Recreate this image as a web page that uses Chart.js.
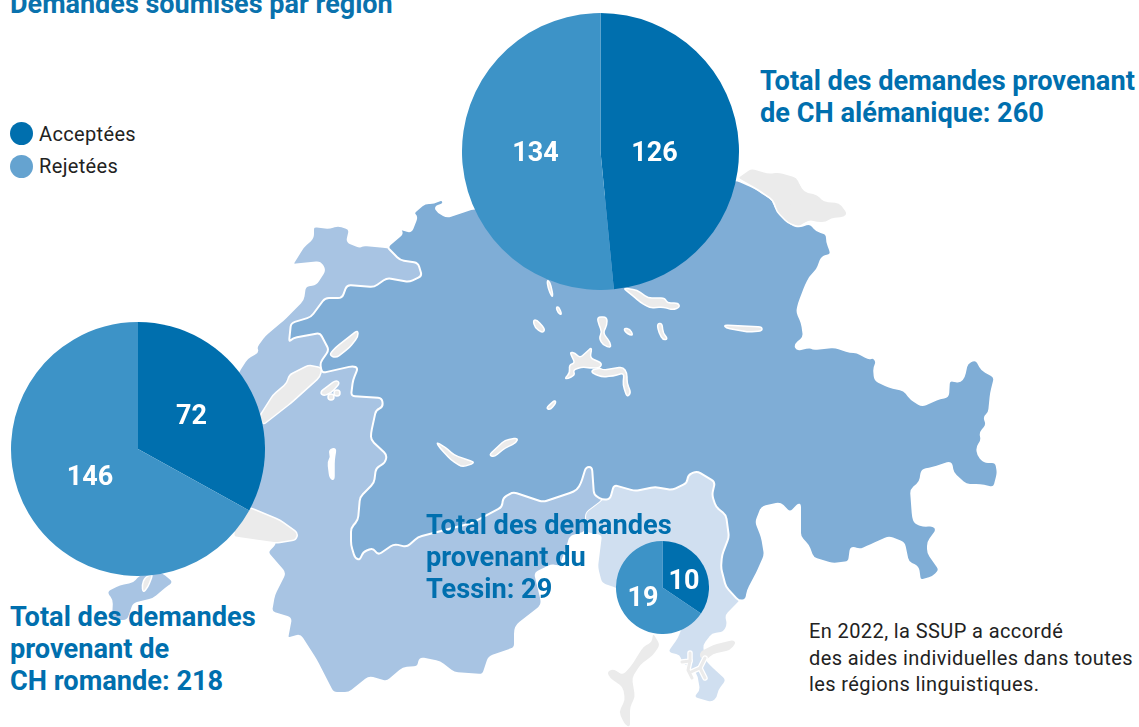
<!DOCTYPE html>
<html lang="fr">
<head>
<meta charset="utf-8">
<title>Demandes soumises par région</title>
<script src="https://cdn.jsdelivr.net/npm/chart.js@4"></script>
<style>
  body { margin: 0; background: #fff; font-family: Roboto, sans-serif; }
  #page { position: relative; width: 1139px; height: 727px; overflow: hidden; }
  #map { position: absolute; left: 0; top: 0; }
  canvas { position: absolute; }
  .title { position: absolute; left: 10px; top: -12px; font-size: 27px; font-weight: 700; color: #0a72ad; white-space: nowrap; }
  .total { position: absolute; font-size: 27.2px; line-height: 32px; font-weight: 700; color: #006fae; white-space: nowrap; }
  .note { position: absolute; left: 809px; top: 618px; font-size: 20px; line-height: 26.5px; letter-spacing: 0.4px; color: #222; white-space: nowrap; }
  .leg { position: absolute; left: 39px; font-size: 20px; letter-spacing: 0.35px; color: #222; white-space: nowrap; }
  .dot { position: absolute; left: 10px; width: 23px; height: 23px; border-radius: 50%; }
</style>
</head>
<body>
<div id="page">
  <svg id="map" width="1139" height="727" viewBox="0 0 1139 727">
    <g stroke="#fff" stroke-width="2" stroke-linejoin="round">
      <!-- Suisse romande -->
      <polygon fill="#a8c4e3" points="387,247 363,245 360,247 347,242 350,229 338,225 329,228 313,226 313,238 303,247 292,265 320,262 325,270 316,284 305,286 303,300 283,320 265,335 256,347 258,352 247,358 238,372 230,400 240,510 276,543 267,552 285,573 274,595 271,612 291,618 287,639 300,635 316,660 333,693 349,693 369,677 387,682 403,668 418,667 420,658 440,662 454,673 483,675 489,657 515,648 515,630 517,625 540,607 542,602 535,573 552,565 560,567 568,545 570,537 586,532 586,513 603,500 620,440 445,300 435,262 400,250"/>
      <polygon fill="#a8c4e3" points="107,592 120,585 133,583 140,575 162,573 173,582 165,588 153,598 133,603 127,620 112,620 113,600" stroke="none"/>
      <!-- Tessin -->
      <polygon fill="#d0dff0" points="603,500 610,485 700,465 745,500 742,596 739,601 725,615 727,625 723,632 712,633 703,645 705,660 713,668 726,680 718,690 717,697 712,702 694,697 700,690 697,673 690,668 682,662 680,655 668,652 678,638 683,625 640,600 617,588 602,583 598,567 602,535 586,532 586,513" stroke="none"/>
      <!-- Suisse alémanique -->
      <polygon fill="#7fadd6" points="387,247 403,233 398,228 411,232 417,217 413,213 425,203 434,203 442,199 444,204 435,207 438,212 447,217 471,209 737,180 755,188 773,200 775,207 786,217 790,224 799,227 810,223 817,231 827,234 827,242 831,252 830,255 822,257 817,270 810,277 806,285 799,303 797,312 802,323 804,337 795,345 797,350 810,347 813,349 835,347 850,352 857,352 869,359 873,357 877,362 874,368 875,380 889,387 904,390 911,399 922,406 940,398 948,397 949,380 960,382 964,377 967,363 976,359 982,370 995,377 991,393 989,413 984,417 987,425 980,433 982,440 977,447 978,455 984,462 996,462 998,473 994,488 980,485 966,485 953,473 951,462 933,468 922,470 920,482 911,490 913,517 915,523 924,526 933,525 937,530 928,542 928,553 940,570 933,577 920,581 918,567 908,562 904,543 889,537 871,545 860,550 851,547 849,562 833,564 813,558 808,545 800,537 800,503 790,513 780,503 762,507 756,522 762,537 765,555 757,573 748,590 746,600 739,601 726,587 721,568 722,555 729,537 726,515 716,507 712,495 715,482 697,471 688,475 687,483 672,490 655,487 635,491 614,485 610,499 603,500 594,495 592,467 586,467 581,483 577,490 570,493 543,502 513,492 503,498 502,507 472,523 418,537 407,547 394,544 378,555 373,548 363,552 360,560 355,558 351,545 351,528 358,520 360,497 374,483 376,468 385,463 387,455 371,440 371,433 376,410 383,407 382,398 351,396 353,380 358,368 353,366 322,373 320,363 329,350 320,333 293,338 289,342 291,323 311,317 325,298 342,298 347,285 374,287 387,278 409,282 422,276 418,263 400,260"/>
    </g>
    <g fill="#ebebeb" stroke="#fff" stroke-width="1.5" stroke-linejoin="round">
      <!-- lacs -->
      <polygon points="737,178 751,168 768,173 779,172 797,177 804,192 817,195 824,202 839,203 847,213 844,217 831,218 826,222 817,222 810,220 799,227 788,223 777,212 773,200 755,188"/>
      <polygon points="798,182 804,192 817,195 824,202 839,203 847,213 844,217 831,218 826,222 817,222 810,220 799,225 790,205" stroke="none"/>
      <polygon points="240,505 251,508 280,520 298,533 296,540 276,543 233,537"/>
      <polygon points="145,577 153,574 148,587 143,593 142,585"/>
      <polygon points="358,330 358,337 349,348 336,358 329,355 336,347"/>
      <polygon points="309,365 322,368 320,377 291,403 263,425 259,417 273,395 287,383 289,375"/>
      <polygon points="320,392 336,380 340,383 331,393 323,396"/>
      <circle cx="331" cy="397" r="3"/>
      <circle cx="337" cy="393" r="3"/>
      <polygon points="436,442 445,447 454,455 462,458 474,462 472,464 462,467 451,460 440,448"/>
      <polygon points="489,455 505,440 518,438 516,443 505,448 494,457"/>
      <polygon points="623,288 637,290 648,298 665,298 667,303 678,303 680,307 673,310 663,307 650,308 640,302 632,295"/>
      <polygon points="547,280 550,282 553,295 552,297 548,288"/>
      <polygon points="556,307 559,307 562,315 558,313"/>
      <polygon points="533,320 537,320 545,329 543,333 535,328"/>
      <polygon points="597,317 607,317 607,325 603,333 610,342 611,348 603,345 599,338 602,332 599,325"/>
      <polygon points="624,328 630,329 633,335 630,335 625,332"/>
      <polygon points="657,324 662,323 663,333 668,339 663,340 659,333"/>
      <polygon points="724,325 762,327 762,331 748,332 726,328"/>
      <polygon points="570,352 575,353 580,358 592,347 590,358 602,363 600,368 590,368 582,367 573,370 575,375 567,379 565,378 570,373 569,365 575,363 572,357"/>
      <polygon points="592,370 600,368 603,370 623,367 627,373 627,383 631,393 627,397 623,385 624,373 613,376 602,377 592,373"/>
      <polygon points="546,408 555,400 556,403 550,410"/>
      <polygon points="329,450 336,448 334,460 334,480 330,478 328,462 331,457" fill="#fff"/>
      <polygon points="700,652 713,645 733,640 736,643 730,650 713,654 706,660 700,658" stroke="none"/>
      <polygon points="653,633 660,645 653,655 640,665 632,678 635,697 630,707 630,727 625,725 619,712 625,700 623,687 610,678 607,672 613,669 623,675 632,665 643,647 652,642" stroke="none"/>
    </g>
    <g fill="none" stroke="#fff" stroke-width="5.5" stroke-linecap="round" stroke-linejoin="round">
      <polyline points="682,662 690,661 690,653"/>
      <polyline points="690,661 688,670 692,678"/>
      <polyline points="691,672 700,668 705,658"/>
      <polyline points="700,668 705,678"/>
    </g>
    <g fill="none" stroke="#ebebeb" stroke-width="3" stroke-linecap="round" stroke-linejoin="round">
      <polyline points="682,662 690,661 690,653"/>
      <polyline points="690,661 688,670 692,678"/>
      <polyline points="691,672 700,668 705,658"/>
      <polyline points="700,668 705,678"/>
    </g>
  </svg>

  <canvas id="pieAlemanique" style="left:461.5px;top:12.5px"></canvas>
  <canvas id="pieRomande" style="left:11px;top:322px"></canvas>
  <canvas id="pieTessin" style="left:616px;top:541px"></canvas>

  <div class="title">Demandes soumises par région</div>
  <div class="dot" style="top:122px;background:#006fae"></div>
  <div class="leg" style="top:122px">Acceptées</div>
  <div class="dot" style="top:155px;background:#65a3d0"></div>
  <div class="leg" style="top:154px">Rejetées</div>

  <div class="total" style="left:760px;top:65px">Total des demandes provenant<br>de CH alémanique: 260</div>
  <div class="total" style="left:10px;top:601px">Total des demandes<br>provenant de<br>CH romande: 218</div>
  <div class="total" style="left:426px;top:509px">Total des demandes<br>provenant du<br>Tessin: 29</div>
  <div class="note">En 2022, la SSUP a accordé<br>des aides individuelles dans toutes<br>les régions linguistiques.</div>
</div>

<script>
// valeurs
var regions = ['CH alémanique', 'CH romande', 'Tessin'];
var statuts = ['Acceptées', 'Rejetées'];
var acceptees = [126, 72, 10];
var rejetees = [134, 146, 19];
var couleurs = ['#006fae', '#3d93c7'];

// arrondit les angles des contours de la carte
function smoothPolygons() {
    document.querySelectorAll('#map polygon').forEach(function(poly) {
        var pts = poly.getAttribute('points').trim().split(/\s+/).map(function(p) {
            return p.split(',').map(Number);
        });
        var d = '';
        pts.forEach(function(p, i) {
            var prev = pts[(i + pts.length - 1) % pts.length];
            var next = pts[(i + 1) % pts.length];
            var a = cut(p, prev), b = cut(p, next);
            d += (i === 0 ? 'M' : 'L') + a[0] + ' ' + a[1] + 'Q' + p[0] + ' ' + p[1] + ' ' + b[0] + ' ' + b[1];
        });
        var path = document.createElementNS('http://www.w3.org/2000/svg', 'path');
        Array.from(poly.attributes).forEach(function(attr) {
            if (attr.name !== 'points') path.setAttribute(attr.name, attr.value);
        });
        path.setAttribute('d', d + 'Z');
        poly.replaceWith(path);
    });
}

function cut(p, q) {
    var dx = q[0] - p[0], dy = q[1] - p[1];
    var len = Math.sqrt(dx * dx + dy * dy);
    var t = Math.min(4, len / 2) / len;
    return [p[0] + dx * t, p[1] + dy * t];
}

smoothPolygons();

// écrit la valeur de chaque part, décalée depuis le centre du disque
var valueLabels = {
    id: 'valueLabels',
    afterDatasetsDraw: function(chart, args, opts) {
        var ctx = chart.ctx;
        var arcs = chart.getDatasetMeta(0).data;
        ctx.save();
        ctx.fillStyle = '#fff';
        ctx.font = '700 27px Roboto';
        ctx.textAlign = 'center';
        ctx.textBaseline = 'middle';
        arcs.forEach(function(arc, i) {
            var value = chart.data.datasets[0].data[i];
            ctx.fillText(value, arc.x + opts.offsets[i][0], arc.y + opts.offsets[i][1]);
        });
        ctx.restore();
    }
};

function drawPie(id, index, size, offsets) {
    var canvas = document.getElementById(id);
    canvas.width = size;
    canvas.height = size;
    return new Chart(canvas, {
        type: 'pie',
        data: {
            labels: statuts,
            datasets: [{
                label: regions[index],
                data: [acceptees[index], rejetees[index]],
                backgroundColor: couleurs,
                borderWidth: 0
            }]
        },
        options: {
            responsive: false,
            animation: false,
            layout: { padding: 0 },
            plugins: {
                legend: { display: false },
                tooltip: { enabled: false },
                valueLabels: { offsets: offsets }
            }
        },
        plugins: [valueLabels]
    });
}

drawPie('pieAlemanique', 0, 277, [[54, 2.5], [-65, 2.5]]);
drawPie('pieRomande', 1, 254, [[53.5, -32], [-48, 29.5]]);
drawPie('pieTessin', 2, 93, [[21.5, -5], [-19.5, 12]]);
</script>
</body>
</html>
